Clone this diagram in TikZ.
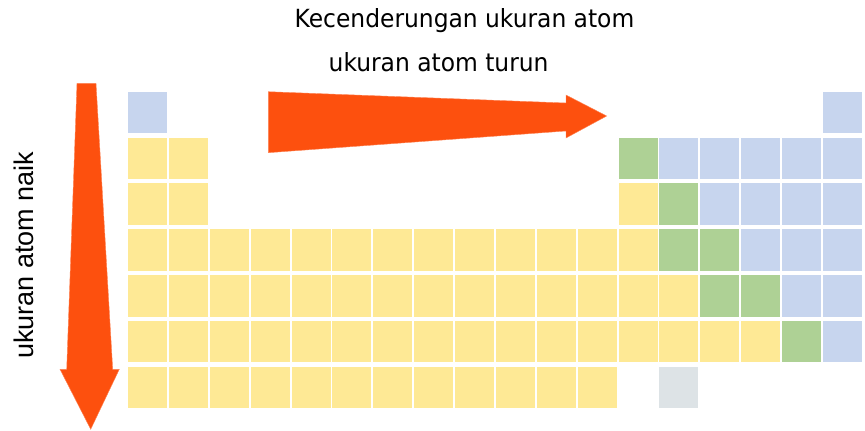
\documentclass[tikz,border=0pt]{standalone}
\usepackage{fontspec}
\newfontfamily\titlefont[FakeStretch=1.04]{DejaVu Sans Condensed}
\newfontfamily\sidefont{Liberation Sans}
\definecolor{cy}{HTML}{FEE995}
\definecolor{cb}{HTML}{C7D5EE}
\definecolor{cg}{HTML}{AED195}
\definecolor{cgr}{HTML}{DDE3E6}
\definecolor{arr}{HTML}{FD500E}
\tikzset{
  arrowshape/.style={fill=arr, draw=arr!70!white, line width=0.4pt, line join=miter},
  titletext/.style={inner sep=0pt, anchor=base west, font=\titlefont\fontsize{25}{30}\selectfont},
  sidetext/.style={inner sep=0pt, anchor=base west, rotate=90, font=\sidefont\fontsize{27}{32}\selectfont}
}
\begin{document}
\begin{tikzpicture}[x=1pt,y=-1pt]
\useasboundingbox (0,0) rectangle (865,431);
% periodic table cells
\foreach \r/\a/\b/\s in {
  1/1/1/cb, 1/18/18/cb,
  2/1/2/cy, 2/13/13/cg, 2/14/18/cb,
  3/1/2/cy, 3/13/13/cy, 3/14/14/cg, 3/15/18/cb,
  4/1/13/cy, 4/14/15/cg, 4/16/18/cb,
  5/1/14/cy, 5/15/16/cg, 5/17/18/cb,
  6/1/16/cy, 6/17/17/cg, 6/18/18/cb,
  7/1/12/cy, 7/14/14/cgr}{
  \foreach \c in {\a,...,\b}{
    \fill[fill=\s] ({128+(\c-1)*40.88},{91.7+(\r-1)*45.83}) rectangle ++(39,41.5);
  }
}
% horizontal arrow
\path[arrowshape] (268.3,91.7) -- (566,103) -- (566,95) -- (606.7,116) -- (566,138) -- (566,131) -- (268.3,152.7) -- cycle;
% vertical arrow
\path[arrowshape] (77,83.3) -- (96,83.3) -- (112.7,369.3) -- (119.3,369.3) -- (90.7,429.3) -- (60,369.3) -- (66.7,369.3) -- cycle;
% texts
\node[titletext] (title) at (294.5,27.7) {Kecenderungan ukuran atom};
\node[titletext] (down) at (328.5,71) {ukuran atom turun};
\node[sidetext] (up) at (33,359) {ukuran atom naik};
\end{tikzpicture}
\end{document}
